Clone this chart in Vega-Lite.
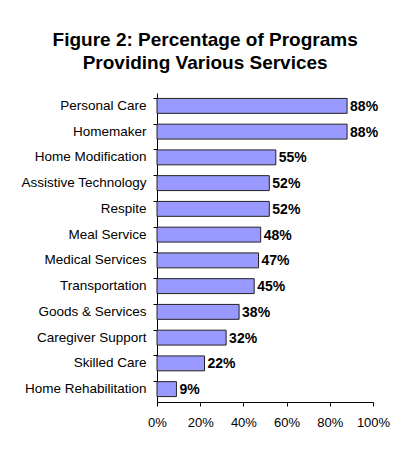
{
  "$schema": "https://vega.github.io/schema/vega-lite/v6.json",
  "width": 216,
  "height": 309,
  "autosize": {"type": "none"},
  "padding": {"left": 157, "top": 93, "right": 35, "bottom": 53},
  "background": "white",
  "title": {
    "text": ["Figure 2: Percentage of Programs", "Providing Various Services"],
    "font": "Liberation Sans",
    "fontSize": 19,
    "fontWeight": "bold",
    "color": "black",
    "lineHeight": 23.5,
    "anchor": "middle",
    "frame": "bounds",
    "offset": 20
  },
  "data": {
    "values": [
      {"service": "Personal Care", "pct": 0.88},
      {"service": "Homemaker", "pct": 0.88},
      {"service": "Home Modification", "pct": 0.55},
      {"service": "Assistive Technology", "pct": 0.52},
      {"service": "Respite", "pct": 0.52},
      {"service": "Meal Service", "pct": 0.48},
      {"service": "Medical Services", "pct": 0.47},
      {"service": "Transportation", "pct": 0.45},
      {"service": "Goods & Services", "pct": 0.38},
      {"service": "Caregiver Support", "pct": 0.32},
      {"service": "Skilled Care", "pct": 0.22},
      {"service": "Home Rehabilitation", "pct": 0.09}
    ]
  },
  "encoding": {
    "y": {
      "field": "service",
      "type": "nominal",
      "sort": null,
      "scale": {"paddingInner": 0.42, "paddingOuter": 0.21},
      "axis": {
        "title": null,
        "bandPosition": 0,
        "tickSize": 4,
        "tickColor": "black",
        "domainColor": "black",
        "labelFont": "Liberation Sans",
        "labelFontSize": 13.5,
        "labelColor": "black",
        "labelPadding": 7,
        "grid": false
      }
    },
    "x": {
      "field": "pct",
      "type": "quantitative",
      "scale": {"domain": [0, 1], "nice": false},
      "axis": {
        "title": null,
        "values": [0, 0.2, 0.4, 0.6, 0.8, 1],
        "format": ".0%",
        "tickSize": 4,
        "tickColor": "black",
        "domainColor": "black",
        "labelFont": "Liberation Sans",
        "labelFontSize": 13,
        "labelColor": "black",
        "labelPadding": 10,
        "labelFlush": false,
        "grid": false
      }
    }
  },
  "layer": [
    {
      "mark": {"type": "bar", "fill": "#9999FF", "stroke": "#222222", "strokeWidth": 1}
    },
    {
      "mark": {
        "type": "text",
        "align": "left",
        "baseline": "middle",
        "dx": 3,
        "dy": 1,
        "font": "Liberation Sans",
        "fontSize": 14,
        "fontWeight": "bold",
        "color": "black"
      },
      "encoding": {
        "text": {"field": "pct", "type": "quantitative", "format": ".0%"}
      }
    }
  ],
  "config": {
    "view": {"stroke": null}
  }
}
